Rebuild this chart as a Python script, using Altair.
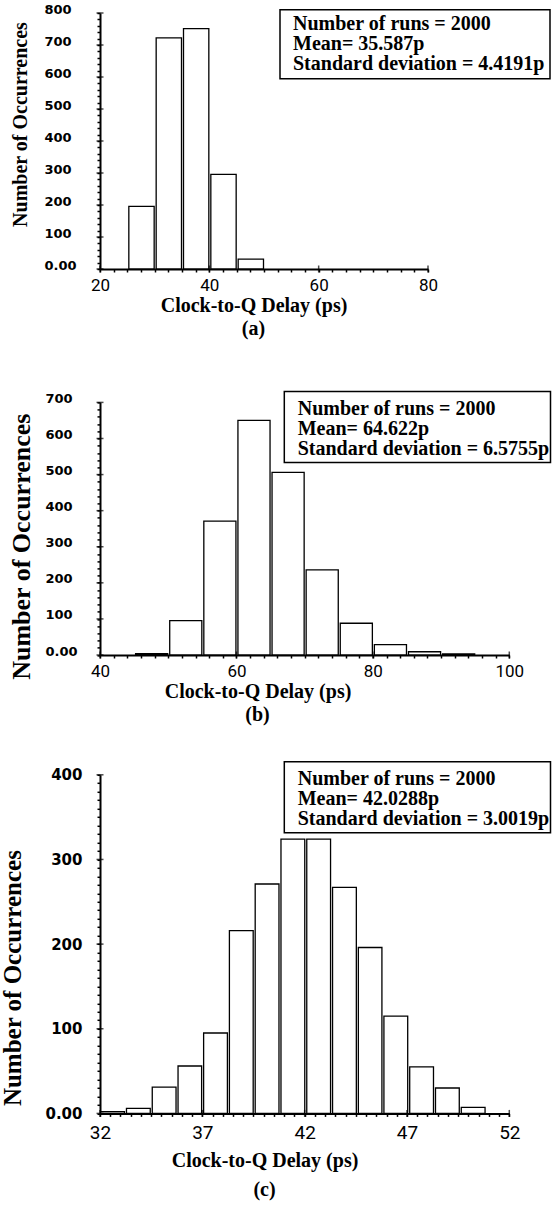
import altair as alt
import numpy as np
import pandas as pd

# ---------------- data ----------------
x_title = "Clock-to-Q Delay (ps)"
y_title = "Number of Occurrences"
tags = ["(a)", "(b)", "(c)"]

# (a)
a_bin_start = [25, 30, 35, 40, 45]
a_bin_end = [30, 35, 40, 45, 50]
a_counts = [196, 722, 751, 296, 31]
a_stats = ["Number of runs = 2000", "Mean= 35.587p", "Standard deviation = 4.4191p"]
a_x_major = [20, 40, 60, 80]
a_y_major = [0, 100, 200, 300, 400, 500, 600, 700, 800]

# (b)
b_bin_start = [45, 50, 55, 60, 65, 70, 75, 80, 85, 90]
b_bin_end = [50, 55, 60, 65, 70, 75, 80, 85, 90, 95]
b_counts = [4, 95, 371, 650, 506, 236, 88, 29, 9, 3]
b_stats = ["Number of runs = 2000", "Mean= 64.622p", "Standard deviation = 6.5755p"]
b_x_major = [40, 60, 80, 100]
b_y_major = [0, 100, 200, 300, 400, 500, 600, 700]

# (c)
c_bin_edges = [31.96, 33.22, 34.48, 35.74, 36.99, 38.25, 39.51, 40.77,
               42.03, 43.29, 44.55, 45.80, 47.06, 48.32, 49.58, 50.84]
c_counts = [2, 6, 31, 56, 95, 216, 271, 324, 324, 267, 196, 115, 55, 30, 7]
c_stats = ["Number of runs = 2000", "Mean= 42.0288p", "Standard deviation = 3.0019p"]
c_x_major = [32, 37, 42, 47, 52]
c_y_major = [0, 100, 200, 300, 400]

SERIF = "Liberation Serif"
NARROW = "Roboto"
WIDE = "DejaVu Sans"


def panel(starts, ends, counts, x_major, x_step, y_major, y_step, stats, tag, s):
    w, h, extra = s["w"], s["h"], s["extra"]
    xdom = [x_major[0], x_major[-1]]
    ydom = [y_major[0], y_major[-1]]
    x_vals = [float(v) for v in np.round(np.arange(xdom[0], xdom[1] + 1e-9, x_step), 4)]
    y_vals = list(range(ydom[0], ydom[1] + 1, y_step))
    xscale = alt.Scale(domain=xdom, nice=False, zero=False)
    yscale = alt.Scale(domain=ydom, nice=False, zero=True, range=[h + extra, extra])

    xaxis = alt.Axis(
        values=x_vals, labelExpr=s["xlab_expr"], title=x_title, grid=False,
        tickSize=3, tickWidth=1.5, tickColor="black", domainWidth=2, domainColor="black",
        labelFont=NARROW, labelFontSize=s["xlab_size"], labelColor="black",
        labelPadding=s["xlab_pad"], labelOverlap=False, labelFlush=False,
        titleFont=SERIF, titleFontWeight="bold", titleFontSize=20, titleColor="black",
        titleX=s["xt_x"], titleY=s["xt_y"], titleAlign="center", titleBaseline="middle",
    )
    yaxis = alt.Axis(
        values=y_vals,
        labelExpr="datum.value == 0 ? '0.00' : (datum.value % 100 == 0 ? format(datum.value, 'd') : '')",
        title=y_title, grid=False,
        tickSize=3, tickWidth=1.5, tickColor="black", domainWidth=2, domainColor="black",
        labelFont=WIDE, labelFontWeight="bold", labelFontSize=s["ylab_size"], labelColor="black",
        labelAlign=s["ylab_align"], labelBaseline=s["ylab_base"], labelPadding=s["ylab_pad"],
        labelOverlap=False, labelFlush=False,
        titleFont=SERIF, titleFontWeight="bold", titleFontSize=s["yt_size"], titleColor="black",
        titleAngle=270, titleX=s["yt_x"], titleY=s["yt_y"] + extra,
        titleAlign="center", titleBaseline="middle",
    )

    df = pd.DataFrame({"start": starts, "end": ends, "count": counts})
    bars = alt.Chart(df).mark_bar(
        fill="white", stroke="black", strokeWidth=1.3, binSpacing=2
    ).encode(
        x=alt.X("start:Q", bin="binned", scale=xscale, axis=xaxis, title=x_title),
        x2="end:Q",
        y=alt.Y("count:Q", scale=yscale, axis=yaxis, title=y_title),
    )

    xt = alt.Chart(pd.DataFrame({"v": x_major})).mark_tick(
        orient="vertical", size=7, thickness=1.5, color="black"
    ).encode(
        x=alt.X("v:Q", scale=xscale, axis=xaxis, title=x_title),
        y=alt.YDatum(0, scale=yscale, axis=yaxis, title=y_title),
    )
    yt = alt.Chart(pd.DataFrame({"v": y_major})).mark_tick(
        orient="horizontal", size=7, thickness=1.5, color="black"
    ).encode(
        y=alt.Y("v:Q", scale=yscale, axis=yaxis, title=y_title),
        x=alt.XDatum(xdom[0], scale=xscale, axis=xaxis, title=x_title),
    )

    one = pd.DataFrame({"k": [0]})
    bx = s["box"]
    box = alt.Chart(one).mark_rect(fill="white", stroke="black", strokeWidth=1.5).encode(
        x=alt.value(bx[0]), x2=alt.value(bx[1]),
        y=alt.value(bx[2] + extra), y2=alt.value(bx[3] + extra),
    )
    txt = alt.Chart(one).mark_text(
        align="left", baseline="top", font=SERIF, fontWeight="bold",
        fontSize=20, lineHeight=20, color="black",
    ).encode(
        x=alt.value(s["txt_x"]), y=alt.value(s["txt_y"] + extra), text=alt.value(stats),
    )
    tagtxt = alt.Chart(one).mark_text(
        align="center", baseline="middle", font=SERIF, fontWeight="bold",
        fontSize=20, color="black",
    ).encode(
        x=alt.value(s["xt_x"]), y=alt.value(h + extra + s["tag_y"]), text=alt.value(tag),
    )
    return alt.layer(bars, xt, yt, box, txt, tagtxt).properties(width=w, height=h + extra)


sa = dict(w=328, h=256, extra=0,
          xlab_expr="datum.value % 20 == 0 ? format(datum.value, 'd') : ''",
          xlab_size=17, xlab_pad=5, xt_x=153.5, xt_y=36, tag_y=60,
          ylab_size=13, ylab_align="left", ylab_base="alphabetic", ylab_pad=53,
          yt_size=20, yt_x=-80, yt_y=111,
          box=[180, 450, -3.3, 65.7], txt_x=193, txt_y=0.5)
sb = dict(w=409.3, h=252.6, extra=14,
          xlab_expr="datum.value % 20 == 0 ? format(datum.value, 'd') : ''",
          xlab_size=17, xlab_pad=5, xt_x=157.5, xt_y=36, tag_y=60,
          ylab_size=13, ylab_align="left", ylab_base="alphabetic", ylab_pad=52,
          yt_size=26, yt_x=-78.3, yt_y=143.8,
          box=[184.3, 450.5, -11, 60], txt_x=197.7, txt_y=-3.6)
sc = dict(w=409.3, h=338.6, extra=0,
          xlab_expr="(datum.value - 32) % 5 == 0 ? format(datum.value, 'd') : ''",
          xlab_size=19, xlab_pad=7, xt_x=164.5, xt_y=47, tag_y=77,
          ylab_size=15, ylab_align="right", ylab_base="middle", ylab_pad=15,
          yt_size=25, yt_x=-88, yt_y=202.8,
          box=[184.3, 450.5, -13, 58], txt_x=197.7, txt_y=-5.9)

pa = panel(a_bin_start, a_bin_end, a_counts, a_x_major, 2.5, a_y_major, 20, a_stats, tags[0], sa)
pb = panel(b_bin_start, b_bin_end, b_counts, b_x_major, 2, b_y_major, 20, b_stats, tags[1], sb)
pc = panel(c_bin_edges[:-1], c_bin_edges[1:], c_counts, c_x_major, 0.5, c_y_major, 10, c_stats, tags[2], sc)

chart = alt.vconcat(pa, pb, pc, spacing=119.4, bounds="flush").properties(
    padding={"left": 0, "top": 3, "right": 0, "bottom": 0},
    background="white",
).configure_view(stroke=None)

chart.save("out.html", embed_options={"renderer": "svg", "actions": False})
